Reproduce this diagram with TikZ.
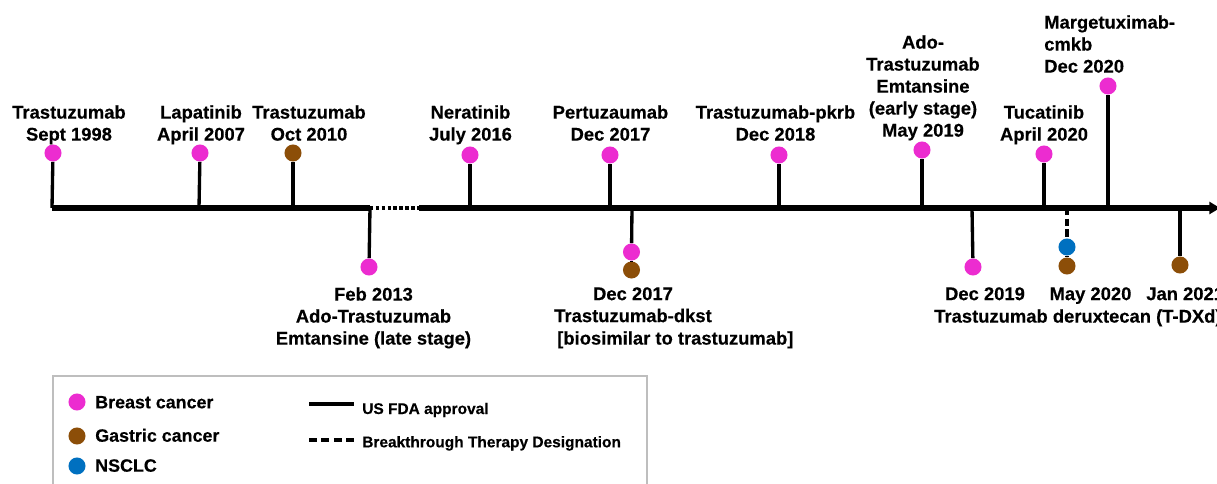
\documentclass[tikz,border=0pt]{standalone}
\usepackage{fontspec}
\setmainfont{Liberation Sans}[BoldFeatures={FakeBold=0.35}]
\usetikzlibrary{arrows.meta}
\definecolor{bcpink}{RGB}{236,44,208}
\definecolor{gcbrown}{RGB}{140,78,8}
\definecolor{nsblue}{RGB}{0,112,192}
\definecolor{boxgray}{RGB}{190,190,190}
\tikzset{
  dot/.style={circle,inner sep=0pt,minimum size=12.8pt,draw=none,fill=#1},
  stem/.style={line width=2.5pt,draw=black},
  dstem/.style={line width=2.5pt,draw=black,dash pattern=on 5.5pt off 2.5pt},
  lbl/.style={inner sep=0pt,align=center,font=\fontsize{13.8}{16.5}\selectfont\bfseries},
  lbll/.style={inner sep=0pt,align=left,font=\fontsize{13.8}{16.5}\selectfont\bfseries},
  leg/.style={inner sep=0pt,font=\fontsize{13.4}{16.5}\selectfont\bfseries},
  legs/.style={inner sep=0pt,font=\fontsize{11.6}{14}\selectfont\bfseries},
  axisline/.style={line width=3.8pt,draw=black}
}
\begin{document}
\begin{tikzpicture}[x=0.75pt,y=-0.75pt]
\useasboundingbox (0,0) rectangle (1217,484);
% axis coordinates
\coordinate (a0) at (52,208);
\coordinate (a1) at (199,208);
\coordinate (a2) at (293,208);
\coordinate (a3) at (370,208);
\coordinate (a4) at (419,208);
\coordinate (a5) at (470,208);
\coordinate (a6) at (610,208);
\coordinate (a7) at (632,208);
\coordinate (a8) at (779,208);
\coordinate (a9) at (922,208);
\coordinate (a10) at (972,208);
\coordinate (a11) at (1044,208);
\coordinate (a12) at (1067,208);
\coordinate (a13) at (1108,208);
\coordinate (a14) at (1180,208);
\coordinate (aend) at (1220,208);
% dots
\node[dot=bcpink] (d0) at (53,153) {};
\node[dot=bcpink] (d1) at (200,153) {};
\node[dot=gcbrown] (d2) at (293,153) {};
\node[dot=bcpink] (d3) at (369,267) {};
\node[dot=bcpink] (d5) at (470,155) {};
\node[dot=bcpink] (d6) at (610,155) {};
\node[dot=bcpink] (d7a) at (631.5,252) {};
\node[dot=gcbrown] (d7b) at (631.5,270) {};
\node[dot=bcpink] (d8) at (779,155) {};
\node[dot=bcpink] (d9) at (922,150) {};
\node[dot=bcpink] (d10) at (973,267) {};
\node[dot=bcpink] (d11) at (1044,154) {};
\node[dot=nsblue] (d12a) at (1067,247) {};
\node[dot=gcbrown] (d12b) at (1067,266) {};
\node[dot=bcpink] (d13) at (1108,86) {};
\node[dot=gcbrown] (d14) at (1180,265) {};
% stems
\draw[stem] (a0) -- (d0);
\draw[stem] (a1) -- (d1);
\draw[stem] (a2) -- (d2);
\draw[stem] (a3) -- (d3);
\draw[stem] (a5) -- (d5);
\draw[stem] (a6) -- (d6);
\draw[stem] (a7) -- (d7a);
\draw[stem] (d7a) -- (d7b);
\draw[stem] (a8) -- (d8);
\draw[stem] (a9) -- (d9);
\draw[stem] (a10) -- (d10);
\draw[stem] (a11) -- (d11);
\draw[dstem] (a12) -- (d12a);
\draw[stem] (d12a) -- (d12b);
\draw[stem] (a13) -- (d13);
\draw[stem] (a14) -- (d14);
% axis
\draw[axisline] (a0) -- (a3);
\draw[line width=2.6pt,dash pattern=on 2.6pt off 1.8pt] (a3) -- (a4);
\draw[axisline,-{Triangle[length=8pt,width=9pt]}] (a4) -- (aend);
% labels above
\node[lbl,anchor=north] (t0) at (69,105) {Trastuzumab\\Sept 1998};
\node[lbl,anchor=north] (t1) at (201,105) {Lapatinib\\April 2007};
\node[lbl,anchor=north] (t2) at (309,105) {Trastuzumab\\Oct 2010};
\node[lbl,anchor=north] (t5) at (470.5,105) {Neratinib\\July 2016};
\node[lbl,anchor=north] (t6) at (610.5,105) {Pertuzaumab\\Dec 2017};
\node[lbl,anchor=north] (t8) at (775.5,105) {Trastuzumab-pkrb\\Dec 2018};
\node[lbl,anchor=north] (t9) at (923,35) {Ado-\\Trastuzumab\\Emtansine\\(early stage)\\May 2019};
\node[lbl,anchor=north] (t11) at (1044,105) {Tucatinib\\April 2020};
\node[lbll,anchor=north west] (t13) at (1044,15) {Margetuximab-\\cmkb\\Dec 2020};
% labels below
\node[lbl,anchor=north] (t3) at (373.5,287) {Feb 2013\\Ado-Trastuzumab\\Emtansine (late stage)};
\node[lbl,anchor=north] (t7) at (633,287) {Dec 2017\\Trastuzumab-dkst};
\node[lbll,anchor=north west] (t7b) at (557,331) {[biosimilar to trastuzumab]};
\node[lbl,anchor=north] (t10) at (985,287) {Dec 2019};
\node[lbl,anchor=north] (t12) at (1090.5,287) {May 2020};
\node[lbll,anchor=north west] (t14) at (1146,287) {Jan 2021};
\node[lbll,anchor=north west] (t15) at (934,309) {Trastuzumab deruxtecan (T-DXd)};
% legend
\draw[boxgray,line width=1.2pt] (53,496) -- (53,376) -- (647,376) -- (647,496);
\node[dot=bcpink] (lg1) at (77,402) {};
\node[dot=gcbrown] (lg2) at (77,436) {};
\node[dot=nsblue] (lg3) at (77,466) {};
\node[leg,anchor=base west] (lt1) at (95,408.3) {Breast cancer};
\node[leg,anchor=base west] (lt2) at (95,441.7) {Gastric cancer};
\node[leg,anchor=base west] (lt3) at (95,471.7) {NSCLC};
\coordinate (ls1) at (309,404);
\coordinate (le1) at (354,404);
\coordinate (ls2) at (309,440);
\coordinate (le2) at (354,440);
\draw[line width=2.6pt] (ls1) -- (le1);
\draw[line width=2.5pt,dash pattern=on 6pt off 3.3pt] (ls2) -- (le2);
\node[legs,anchor=base west] (lt4) at (362,414) {US FDA approval};
\node[legs,anchor=base west] (lt5) at (362,447.3) {Breakthrough Therapy Designation};
\end{tikzpicture}
\end{document}
